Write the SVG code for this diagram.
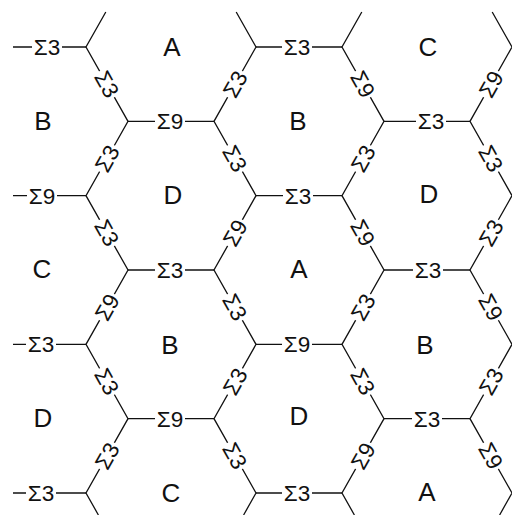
<svg xmlns="http://www.w3.org/2000/svg" width="512" height="515" viewBox="0 0 512 515">
<style>
.e{stroke:#111;stroke-width:1.3;fill:none;stroke-linejoin:miter}
.lb rect{fill:#fff;stroke:none}
.lb text{font-family:"Liberation Sans",Arial,sans-serif;font-size:22.5px;fill:#111;text-anchor:middle}
.cell text{font-family:"Liberation Sans",Arial,sans-serif;font-size:26px;fill:#111;text-anchor:middle}
</style>
<rect x="0" y="0" width="512" height="515" fill="#fff"/>
<g id="connectors">
<line class="e" x1="13" y1="47" x2="86" y2="47"/>
<line class="e" x1="256" y1="47" x2="342" y2="47"/>
<line class="e" x1="128" y1="121.33" x2="214" y2="121.33"/>
<line class="e" x1="384" y1="121.33" x2="470" y2="121.33"/>
<line class="e" x1="13" y1="195.67" x2="86" y2="195.67"/>
<line class="e" x1="256" y1="195.67" x2="342" y2="195.67"/>
<line class="e" x1="128" y1="270" x2="214" y2="270"/>
<line class="e" x1="384" y1="270" x2="470" y2="270"/>
<line class="e" x1="13" y1="344.33" x2="86" y2="344.33"/>
<line class="e" x1="256" y1="344.33" x2="342" y2="344.33"/>
<line class="e" x1="128" y1="418.67" x2="214" y2="418.67"/>
<line class="e" x1="384" y1="418.67" x2="470" y2="418.67"/>
<line class="e" x1="13" y1="493" x2="86" y2="493"/>
<line class="e" x1="256" y1="493" x2="342" y2="493"/>
<polyline class="e" points="105.8,12 86,47 128,121.33 86,195.67 128,270 86,344.33 128,418.67 86,493 98.4,515"/>
<polyline class="e" points="236.2,12 256,47 214,121.33 256,195.67 214,270 256,344.33 214,418.67 256,493 243.6,515"/>
<polyline class="e" points="361.8,12 342,47 384,121.33 342,195.67 384,270 342,344.33 384,418.67 342,493 354.4,515"/>
<polyline class="e" points="492.2,12 512,47 470,121.33 512,195.67 470,270 512,344.33 470,418.67 512,493 499.6,515"/>
</g>
<g id="edge-labels">
<g class="lb" transform="translate(47,47)"><rect x="-15" y="-8" width="30" height="16"/><text x="0" y="8">Σ3</text></g>
<g class="lb" transform="translate(297,47)"><rect x="-15" y="-8" width="30" height="16"/><text x="0" y="8">Σ3</text></g>
<g class="lb" transform="translate(170,121.33)"><rect x="-15" y="-8" width="30" height="16"/><text x="0" y="8">Σ9</text></g>
<g class="lb" transform="translate(431,121.33)"><rect x="-15" y="-8" width="30" height="16"/><text x="0" y="8">Σ3</text></g>
<g class="lb" transform="translate(42,195.67)"><rect x="-15" y="-8" width="30" height="16"/><text x="0" y="8">Σ9</text></g>
<g class="lb" transform="translate(298,195.67)"><rect x="-15" y="-8" width="30" height="16"/><text x="0" y="8">Σ3</text></g>
<g class="lb" transform="translate(170,270)"><rect x="-15" y="-8" width="30" height="16"/><text x="0" y="8">Σ3</text></g>
<g class="lb" transform="translate(428,270)"><rect x="-15" y="-8" width="30" height="16"/><text x="0" y="8">Σ3</text></g>
<g class="lb" transform="translate(41,344.33)"><rect x="-15" y="-8" width="30" height="16"/><text x="0" y="8">Σ3</text></g>
<g class="lb" transform="translate(297,344.33)"><rect x="-15" y="-8" width="30" height="16"/><text x="0" y="8">Σ9</text></g>
<g class="lb" transform="translate(170,418.67)"><rect x="-15" y="-8" width="30" height="16"/><text x="0" y="8">Σ9</text></g>
<g class="lb" transform="translate(427,418.67)"><rect x="-15" y="-8" width="30" height="16"/><text x="0" y="8">Σ3</text></g>
<g class="lb" transform="translate(41,493)"><rect x="-15" y="-8" width="30" height="16"/><text x="0" y="8">Σ3</text></g>
<g class="lb" transform="translate(297,493)"><rect x="-15" y="-8" width="30" height="16"/><text x="0" y="8">Σ3</text></g>

<g class="lb" transform="translate(107,84.17) rotate(60.54)"><rect x="-15" y="-8" width="30" height="16"/><text x="0" y="8">Σ3</text></g>
<g class="lb" transform="translate(107,158.5) rotate(-60.54)"><rect x="-15" y="-8" width="30" height="16"/><text x="0" y="8">Σ3</text></g>
<g class="lb" transform="translate(107,232.83) rotate(60.54)"><rect x="-15" y="-8" width="30" height="16"/><text x="0" y="8">Σ3</text></g>
<g class="lb" transform="translate(107,307.17) rotate(-60.54)"><rect x="-15" y="-8" width="30" height="16"/><text x="0" y="8">Σ9</text></g>
<g class="lb" transform="translate(107,381.5) rotate(60.54)"><rect x="-15" y="-8" width="30" height="16"/><text x="0" y="8">Σ3</text></g>
<g class="lb" transform="translate(107,455.83) rotate(-60.54)"><rect x="-15" y="-8" width="30" height="16"/><text x="0" y="8">Σ3</text></g>

<g class="lb" transform="translate(235,84.17) rotate(-60.54)"><rect x="-15" y="-8" width="30" height="16"/><text x="0" y="8">Σ3</text></g>
<g class="lb" transform="translate(235,158.5) rotate(60.54)"><rect x="-15" y="-8" width="30" height="16"/><text x="0" y="8">Σ3</text></g>
<g class="lb" transform="translate(235,232.83) rotate(-60.54)"><rect x="-15" y="-8" width="30" height="16"/><text x="0" y="8">Σ9</text></g>
<g class="lb" transform="translate(235,307.17) rotate(60.54)"><rect x="-15" y="-8" width="30" height="16"/><text x="0" y="8">Σ3</text></g>
<g class="lb" transform="translate(235,381.5) rotate(-60.54)"><rect x="-15" y="-8" width="30" height="16"/><text x="0" y="8">Σ3</text></g>
<g class="lb" transform="translate(235,455.83) rotate(60.54)"><rect x="-15" y="-8" width="30" height="16"/><text x="0" y="8">Σ3</text></g>

<g class="lb" transform="translate(363,84.17) rotate(60.54)"><rect x="-15" y="-8" width="30" height="16"/><text x="0" y="8">Σ9</text></g>
<g class="lb" transform="translate(363,158.5) rotate(-60.54)"><rect x="-15" y="-8" width="30" height="16"/><text x="0" y="8">Σ3</text></g>
<g class="lb" transform="translate(363,232.83) rotate(60.54)"><rect x="-15" y="-8" width="30" height="16"/><text x="0" y="8">Σ9</text></g>
<g class="lb" transform="translate(363,307.17) rotate(-60.54)"><rect x="-15" y="-8" width="30" height="16"/><text x="0" y="8">Σ3</text></g>
<g class="lb" transform="translate(363,381.5) rotate(60.54)"><rect x="-15" y="-8" width="30" height="16"/><text x="0" y="8">Σ3</text></g>
<g class="lb" transform="translate(363,455.83) rotate(-60.54)"><rect x="-15" y="-8" width="30" height="16"/><text x="0" y="8">Σ9</text></g>

<g class="lb" transform="translate(491,84.17) rotate(-60.54)"><rect x="-15" y="-8" width="30" height="16"/><text x="0" y="8">Σ9</text></g>
<g class="lb" transform="translate(491,158.5) rotate(60.54)"><rect x="-15" y="-8" width="30" height="16"/><text x="0" y="8">Σ3</text></g>
<g class="lb" transform="translate(491,232.83) rotate(-60.54)"><rect x="-15" y="-8" width="30" height="16"/><text x="0" y="8">Σ3</text></g>
<g class="lb" transform="translate(491,307.17) rotate(60.54)"><rect x="-15" y="-8" width="30" height="16"/><text x="0" y="8">Σ9</text></g>
<g class="lb" transform="translate(491,381.5) rotate(-60.54)"><rect x="-15" y="-8" width="30" height="16"/><text x="0" y="8">Σ3</text></g>
<g class="lb" transform="translate(491,455.83) rotate(60.54)"><rect x="-15" y="-8" width="30" height="16"/><text x="0" y="8">Σ9</text></g>
</g>
<g id="cell-A1" class="cell"><text x="172" y="56.3">A</text></g>
<g id="cell-C1" class="cell"><text x="428" y="56.3">C</text></g>
<g id="cell-B1" class="cell"><text x="43" y="130.3">B</text></g>
<g id="cell-B2" class="cell"><text x="298" y="130.3">B</text></g>
<g id="cell-D1" class="cell"><text x="173" y="204.3">D</text></g>
<g id="cell-D2" class="cell"><text x="429" y="203.3">D</text></g>
<g id="cell-C2" class="cell"><text x="42" y="278.3">C</text></g>
<g id="cell-A2" class="cell"><text x="299" y="278.3">A</text></g>
<g id="cell-B3" class="cell"><text x="170" y="354.3">B</text></g>
<g id="cell-B4" class="cell"><text x="425" y="354.3">B</text></g>
<g id="cell-D3" class="cell"><text x="43" y="427.3">D</text></g>
<g id="cell-D4" class="cell"><text x="299" y="425.3">D</text></g>
<g id="cell-C3" class="cell"><text x="171" y="502.3">C</text></g>
<g id="cell-A3" class="cell"><text x="427" y="501.3">A</text></g>
</svg>
